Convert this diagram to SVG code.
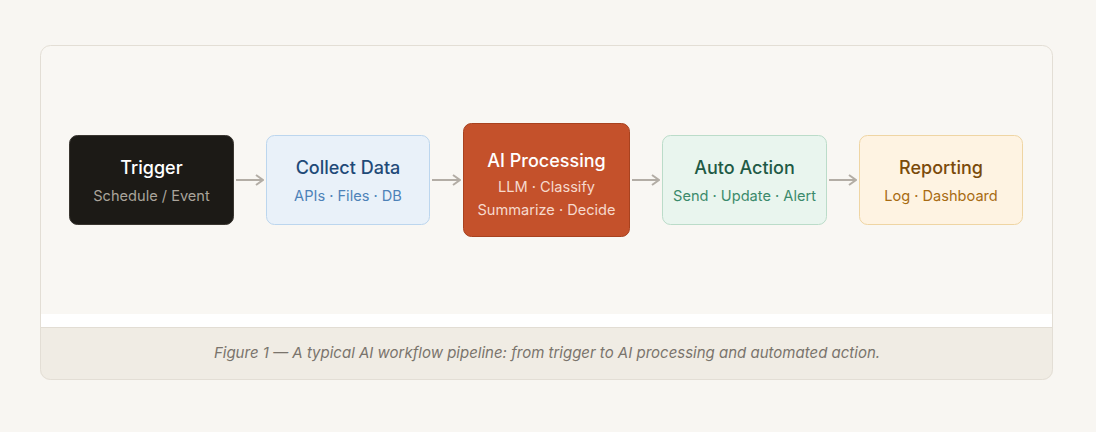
<svg xmlns="http://www.w3.org/2000/svg" width="1096" height="432" viewBox="0 0 1096 432">
<defs>
<style>
.t{font-family:Inter,"Noto Sans","Liberation Sans",sans-serif;font-size:18px;font-weight:500;text-anchor:middle}
.s{font-family:Inter,"Noto Sans","Liberation Sans",sans-serif;font-size:14.6px;text-anchor:middle}
.cap{font-family:Inter,"Noto Sans","Liberation Sans",sans-serif;font-size:15px;font-style:italic;fill:#7a746c;text-anchor:middle}
.con{stroke:#b3ada5;stroke-width:2;fill:none}
</style>
<marker id="ah" viewBox="0 0 10 12" refX="9" refY="6" markerWidth="10" markerHeight="12" markerUnits="userSpaceOnUse" orient="auto">
<path d="M2,1 L9,6 L2,11" fill="none" stroke="#b3ada5" stroke-width="2"/>
</marker>
<clipPath id="card"><rect x="40" y="45" width="1013" height="335" rx="10"/></clipPath>
</defs>
<rect width="1096" height="432" fill="#f8f6f2"/>
<g clip-path="url(#card)">
<rect x="40" y="45" width="1013" height="335" fill="#f9f7f3"/>
<rect x="40" y="314" width="1013" height="13" fill="#ffffff"/>
<rect x="40" y="327" width="1013" height="53" fill="#f0ece4"/>
<line x1="40" y1="327.5" x2="1053" y2="327.5" stroke="#e2ddd4"/>
</g>
<rect x="40.5" y="45.5" width="1012" height="334" rx="10" fill="none" stroke="#e3ded5"/>
<g id="connectors">
<line class="con" x1="236" y1="180" x2="263" y2="180" marker-end="url(#ah)"/>
<line class="con" x1="432" y1="180" x2="460" y2="180" marker-end="url(#ah)"/>
<line class="con" x1="632" y1="180" x2="659" y2="180" marker-end="url(#ah)"/>
<line class="con" x1="829" y1="180" x2="856" y2="180" marker-end="url(#ah)"/>
</g>
<g id="trigger">
<rect x="69.5" y="135.5" width="164" height="89" rx="8" fill="#1c1a16" stroke="#3a3630"/>
<text class="t" x="151.5" y="174" fill="#ffffff" font-weight="600">Trigger</text>
<text class="s" x="151.5" y="201" fill="#aaa49b">Schedule / Event</text>
</g>
<g id="collect">
<rect x="266.5" y="135.5" width="163" height="89" rx="8" fill="#e9f1f9" stroke="#bcd6ee"/>
<text class="t" x="348" y="174" fill="#1f4a78">Collect Data</text>
<text class="s" x="348" y="201" fill="#4d82b8">APIs · Files · DB</text>
</g>
<g id="ai">
<rect x="463.5" y="123.5" width="166" height="113" rx="8" fill="#c4512b" stroke="#a8421f"/>
<text class="t" x="546.5" y="167" fill="#ffffff" font-weight="700">AI Processing</text>
<text class="s" x="546.5" y="192" fill="#f6d9cd">LLM · Classify</text>
<text class="s" x="546.5" y="215" fill="#f6d9cd">Summarize · Decide</text>
</g>
<g id="action">
<rect x="662.5" y="135.5" width="164" height="89" rx="8" fill="#e9f5ee" stroke="#bbdcc9"/>
<text class="t" x="744.5" y="174" fill="#1f5a45">Auto Action</text>
<text class="s" x="744.5" y="201" fill="#3b8a6b">Send · Update · Alert</text>
</g>
<g id="reporting">
<rect x="859.5" y="135.5" width="163" height="89" rx="8" fill="#fef3e2" stroke="#efd5a3"/>
<text class="t" x="941" y="174" fill="#7a4a0a">Reporting</text>
<text class="s" x="941" y="201" fill="#a86b12">Log · Dashboard</text>
</g>
<text class="cap" x="547" y="358">Figure 1 — A typical AI workflow pipeline: from trigger to AI processing and automated action.</text>
</svg>
